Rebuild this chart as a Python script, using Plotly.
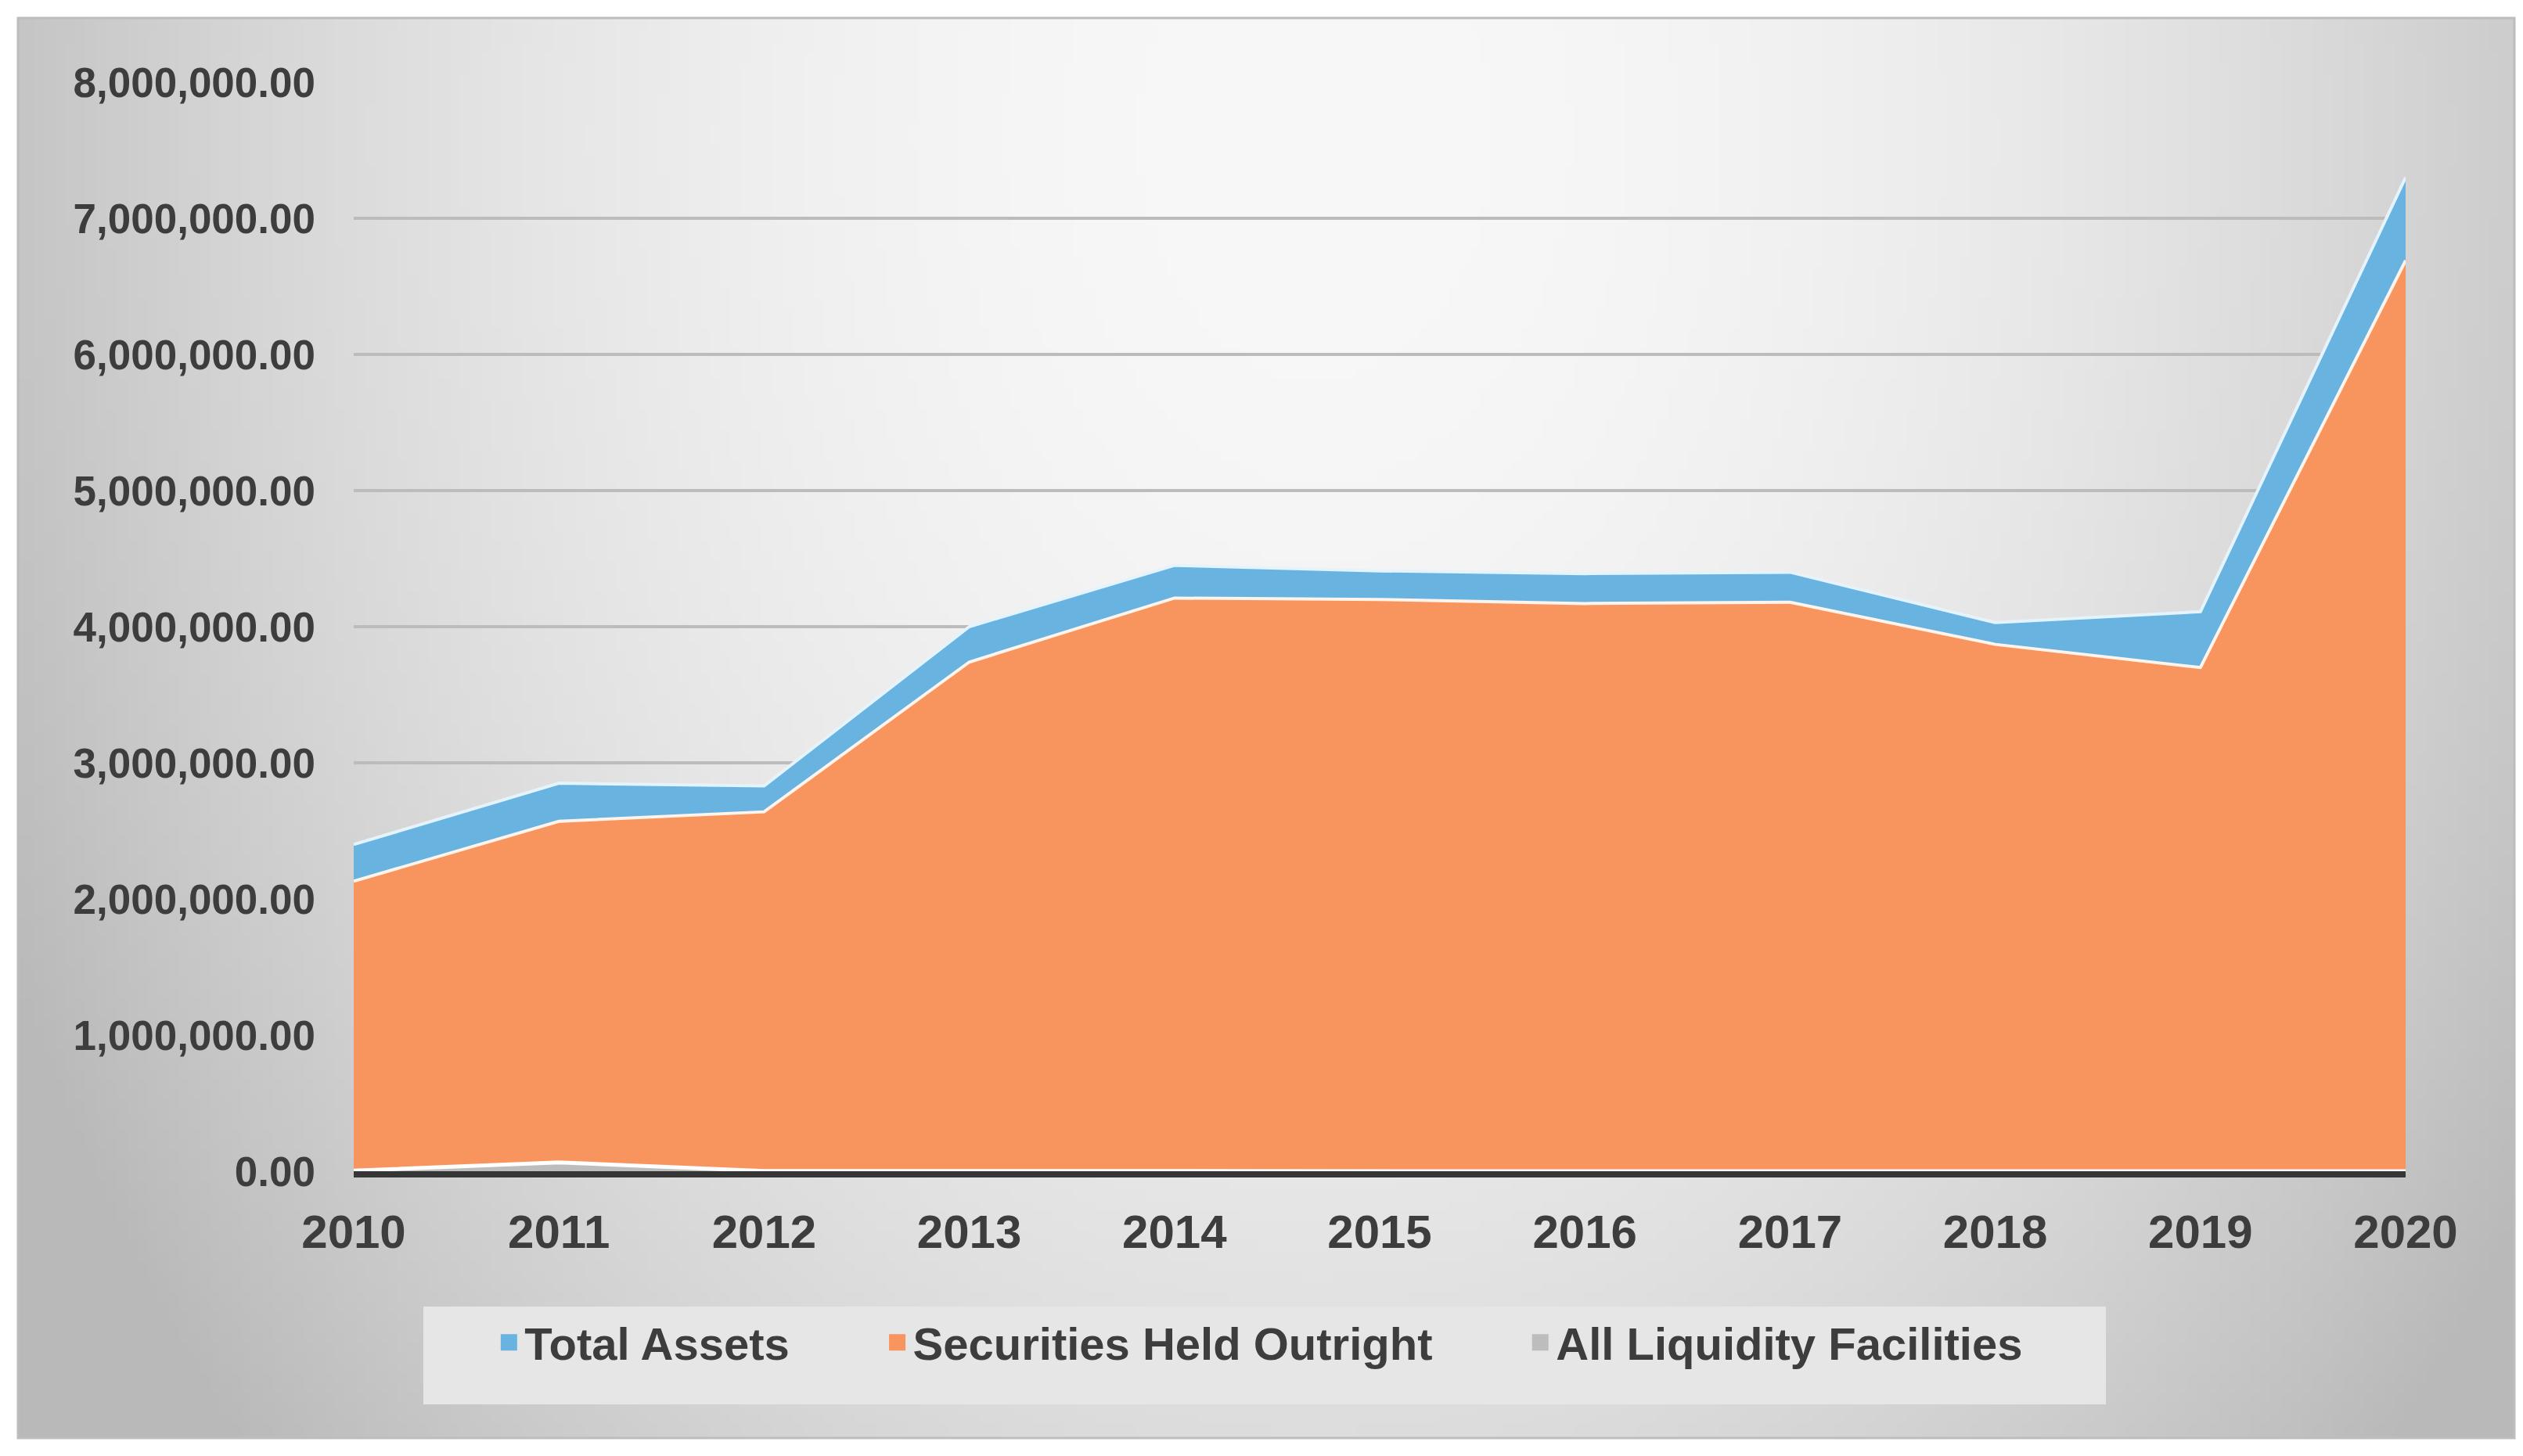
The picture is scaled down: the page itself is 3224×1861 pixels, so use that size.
import base64, struct, zlib
import numpy as np
import plotly.graph_objects as go

# ---------------- data ----------------
years = [2010, 2011, 2012, 2013, 2014, 2015, 2016, 2017, 2018, 2019, 2020]
total_assets = [2400000, 2850000, 2830000, 4000000, 4450000, 4410000, 4390000, 4400000, 4030000, 4110000, 7300000]
securities_held = [2130000, 2570000, 2640000, 3740000, 4210000, 4200000, 4170000, 4180000, 3870000, 3700000, 6690000]
liquidity_facilities = [4000, 65000, 2000, 0, 0, 0, 0, 0, 0, 0, 0]
series_names = ["Total Assets", "Securities Held Outright", "All Liquidity Facilities"]
series_colors = ["#69b3e1", "#f8955e", "#bdbdbd"]
y_ticks = [0, 1000000, 2000000, 3000000, 4000000, 5000000, 6000000, 7000000, 8000000]

# ---------------- geometry (pixels) ----------------
W, H = 3224, 1861
L, R, T, B = 444, 3224 - 3066, 97, 1861 - 1489
pw, ph = W - L - R, H - T - B


def px_x(x):
    return (x - L) / pw


def px_y(y):
    return (H - B - y) / ph


# ---------------- background gradient image ----------------
GW, GH = 240, 140
xs = np.linspace(0, 1, GW)
ys = np.linspace(0, 1, GH)
XX, YY = np.meshgrid(xs, ys)
d2 = ((XX - 0.52) / 0.56) ** 2 + ((YY - 0.08) / 1.35) ** 2
val = np.clip(248 - 58 * d2, 185, 250).astype(np.uint8)
raw = b"".join(b"\x00" + bytes(np.repeat(val[j], 3)) for j in range(GH))


def _chunk(t, d):
    return struct.pack(">I", len(d)) + t + d + struct.pack(">I", zlib.crc32(t + d) & 0xFFFFFFFF)


png = (b"\x89PNG\r\n\x1a\n" + _chunk(b"IHDR", struct.pack(">IIBBBBB", GW, GH, 8, 2, 0, 0, 0))
       + _chunk(b"IDAT", zlib.compress(raw)) + _chunk(b"IEND", b""))
bg_src = "data:image/png;base64," + base64.b64encode(png).decode()

FONT = "Liberation Sans, Arial, sans-serif"
TXT = "#3d3d3d"

fig = go.Figure()
area_data = [total_assets, securities_held, liquidity_facilities]
edge_colors = ["#e4f3fc", "#fff4ec", "#ffffff"]
edge_widths = [4, 4, 5]
for name, vals, col, ec, ew in zip(series_names, area_data, series_colors, edge_colors, edge_widths):
    fig.add_trace(go.Scatter(x=years, y=vals, name=name, mode="lines", legendgroup=name,
                             fill="tozeroy", fillcolor=col, showlegend=False,
                             line=dict(color=ec, width=ew)))
# legend proxies (square swatches, draw nothing on the plot)
pads = ["\u00a0" * 7, "\u00a0" * 7, ""]
for name, col, pad in zip(series_names, series_colors, pads):
    fig.add_trace(go.Scatter(x=[None], y=[None], name=name + pad, mode="markers", legendgroup=name,
                             marker=dict(symbol="square", size=16, color=col,
                                         line=dict(color=col, width=5)),
                             showlegend=True))

fig.update_layout(
    width=W, height=H,
    margin=dict(l=L, r=R, t=T, b=B, autoexpand=False),
    paper_bgcolor="white",
    plot_bgcolor="rgba(0,0,0,0)",
    font=dict(family=FONT, size=54, color=TXT, weight="bold"),
    showlegend=True,
    legend=dict(orientation="h", xref="container", yref="container",
                x=0.497, xanchor="center", y=1 - 1708 / H, yanchor="middle",
                bgcolor="rgba(0,0,0,0)", font=dict(size=58, color=TXT, family=FONT, weight="bold"),
                itemwidth=30, traceorder="normal"),
    images=[dict(source=bg_src, xref="paper", yref="paper",
                 x=px_x(15), y=px_y(15), sizex=px_x(3205) - px_x(15), sizey=px_y(15) - px_y(1830),
                 xanchor="left", yanchor="top", sizing="stretch", layer="below")],
    shapes=[
        dict(type="rect", xref="paper", yref="paper", layer="below",
             x0=px_x(533), x1=px_x(2683), y0=px_y(1787), y1=px_y(1662),
             fillcolor="#e6e6e6", line=dict(width=0)),
        dict(type="rect", xref="paper", yref="paper", layer="below",
             x0=px_x(15), x1=px_x(3205), y0=px_y(1830), y1=px_y(15),
             fillcolor="rgba(0,0,0,0)", line=dict(color="#bdbdbd", width=3)),
    ],
)

fig.update_xaxes(range=[2010, 2020], tickmode="array", tickvals=years,
                 ticktext=[str(y) for y in years], showgrid=False, zeroline=False,
                 showline=True, linecolor="#363636", linewidth=8, layer="above traces",
                 ticks="", ticklabelstandoff=18,
                 tickfont=dict(size=60, color=TXT, family=FONT, weight="bold"))
fig.update_yaxes(range=[0, 8000000], tickmode="array", tickvals=y_ticks,
                 tickformat=",.2f", showgrid=True, gridcolor="#bcbcbc", gridwidth=4,
                 zeroline=False, showline=False, ticks="", ticklabelstandoff=48,
                 tickfont=dict(size=53, color=TXT, family=FONT, weight="bold"))

fig.write_html("out.html")
